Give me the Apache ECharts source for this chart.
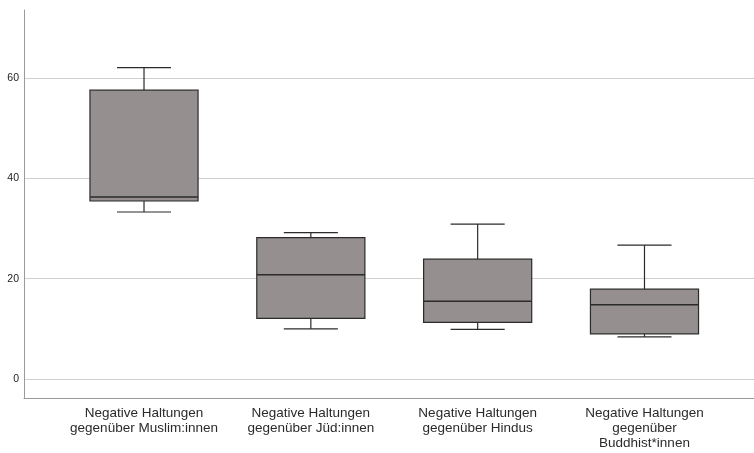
<!DOCTYPE html>
<html>
<head>
<meta charset="utf-8">
<script src="https://cdn.jsdelivr.net/npm/echarts@6/dist/echarts.min.js"></script>
<style>html,body{margin:0;padding:0;background:#fff;}#c{width:754px;height:453px;}</style>
</head>
<body>
<div id="c"></div>
<script>
const categories = ["Muslim:innen", "Jüd:innen", "Hindus", "Buddhist*innen"];
const tickLabels = [
  "Negative Haltungen\ngegenüber Muslim:innen",
  "Negative Haltungen\ngegenüber Jüd:innen",
  "Negative Haltungen\ngegenüber Hindus",
  "Negative Haltungen\ngegenüber\nBuddhist*innen"
];
const whiskerLow  = [33.3, 10.0,  9.9,  8.4];
const q1          = [35.5, 12.1, 11.3,  9.0];
const median      = [36.3, 20.8, 15.5, 14.8];
const q3          = [57.6, 28.2, 23.9, 17.9];
const whiskerHigh = [62.1, 29.2, 30.9, 26.7];
const yMin = -3.8, yMax = 73.6;

const boxData = categories.map((c, i) => [i, whiskerLow[i], q1[i], median[i], q3[i], whiskerHigh[i]]);

const chart = echarts.init(document.getElementById('c'), null, {renderer: 'canvas'});
const stroke = '#2b2b2b';
chart.setOption({
  animation: false,
  backgroundColor: '#ffffff',
  grid: [
    {left: 24, right: 0, top: 10, bottom: 55},
    {left: 60.6, right: 26.1, top: 10, bottom: 55}
  ],
  xAxis: [
    {gridIndex: 0, type: 'value', min: 0, max: 1, axisLabel: {show: false}, axisTick: {show: false},
     splitLine: {show: false}, axisLine: {show: true, onZero: false, lineStyle: {color: '#9a9a9a', width: 1}}},
    {gridIndex: 1, type: 'category', data: categories, axisLine: {show: false, onZero: false}, axisTick: {show: false},
     splitLine: {show: false},
     axisLabel: {interval: 0, margin: 8, color: '#2a2a2a', fontFamily: 'Liberation Sans', fontSize: 13.5, lineHeight: 15,
       align: 'center', formatter: (v, i) => tickLabels[i]}}
  ],
  yAxis: [
    {gridIndex: 0, type: 'value', min: yMin, max: yMax, splitNumber: 4,
     axisLine: {show: true, onZero: false, lineStyle: {color: '#9a9a9a', width: 1}}, axisTick: {show: false},
     axisLabel: {showMinLabel: false, showMaxLabel: false, color: '#222', fontFamily: 'Liberation Sans', fontSize: 10.5, margin: 5,
       formatter: v => (Math.abs(v % 20) < 1e-6 ? String(v) : '')},
     splitLine: {show: true, showMinLine: false, showMaxLine: false, lineStyle: {color: '#cfcfcf', width: 1.2}}},
    {gridIndex: 1, type: 'value', min: yMin, max: yMax, show: false, splitLine: {show: false}}
  ],
  series: [{
    type: 'custom',
    xAxisIndex: 1, yAxisIndex: 1,
    data: boxData,
    encode: {x: 0, y: [1, 2, 3, 4, 5]},
    renderItem: function (params, api) {
      const idx = api.value(0);
      const band = api.size([1, 0])[0];
      const w = band * 0.648;
      const cap = w / 2;
      const cx = api.coord([idx, 0])[0];
      const yLo = api.coord([idx, api.value(1)])[1];
      const yQ1 = api.coord([idx, api.value(2)])[1];
      const yMed = api.coord([idx, api.value(3)])[1];
      const yQ3 = api.coord([idx, api.value(4)])[1];
      const yHi = api.coord([idx, api.value(5)])[1];
      const ls = {stroke: stroke, lineWidth: 1.2, fill: null};
      return {
        type: 'group',
        children: [
          {type: 'line', shape: {x1: cx, y1: yHi, x2: cx, y2: yQ3}, style: ls},
          {type: 'line', shape: {x1: cx - cap / 2, y1: yHi, x2: cx + cap / 2, y2: yHi}, style: ls},
          {type: 'line', shape: {x1: cx, y1: yQ1, x2: cx, y2: yLo}, style: ls},
          {type: 'line', shape: {x1: cx - cap / 2, y1: yLo, x2: cx + cap / 2, y2: yLo}, style: ls},
          {type: 'rect', shape: {x: cx - w / 2, y: yQ3, width: w, height: yQ1 - yQ3},
           style: {fill: '#958f8f', stroke: stroke, lineWidth: 1.2}},
          {type: 'line', shape: {x1: cx - w / 2, y1: yMed, x2: cx + w / 2, y2: yMed}, style: {stroke: stroke, lineWidth: 1.6}}
        ]
      };
    }
  }]
});
</script>
</body>
</html>
